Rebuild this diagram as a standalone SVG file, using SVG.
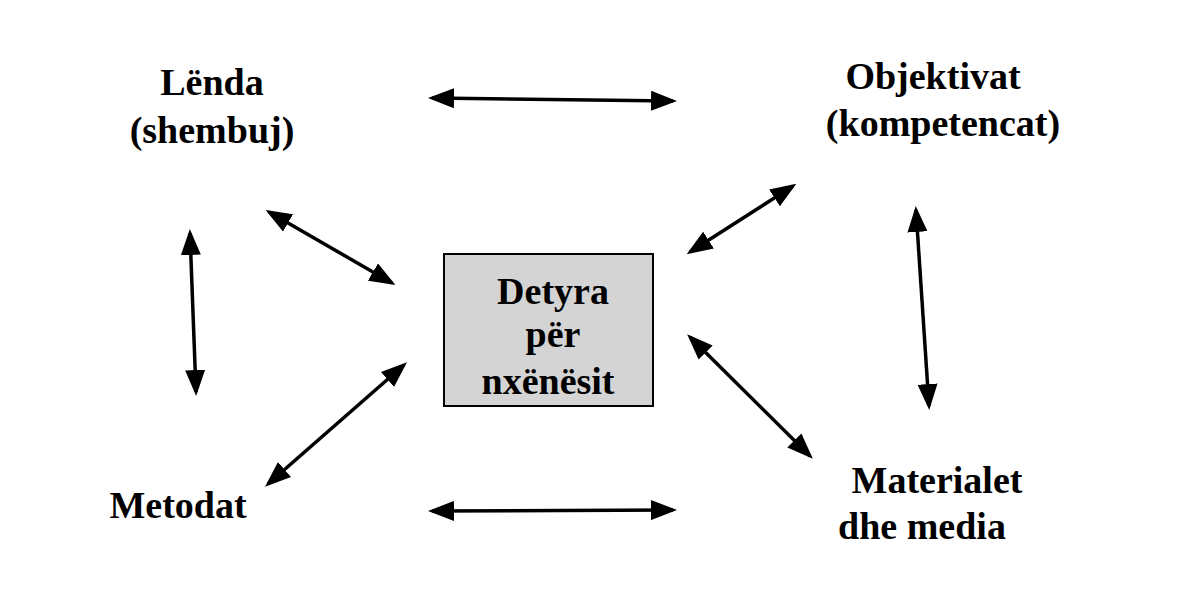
<svg xmlns="http://www.w3.org/2000/svg" width="1188" height="611" viewBox="0 0 1188 611">
<style>
.t{font-family:"Liberation Serif",serif;font-weight:bold;font-size:38px;fill:#000;text-anchor:middle}
.c line{stroke:#000;stroke-width:3.5;marker-start:url(#a);marker-end:url(#a)}
</style>
<defs>
<marker id="a" markerUnits="userSpaceOnUse" markerWidth="26" markerHeight="20" refX="22" refY="10" orient="auto-start-reverse">
<path d="M0,0 L26,10 L0,20 Z" fill="#000"/>
</marker>
</defs>
<rect width="1188" height="611" fill="#fff"/>
<g id="center"><rect x="444" y="254" width="209" height="152" fill="#d4d4d4" stroke="#000" stroke-width="2"/>
<text class="t" x="553" y="304">Detyra</text><text class="t" x="553" y="347">për</text><text class="t" x="548" y="394">nxënësit</text></g>
<g id="lenda"><text class="t" x="212" y="95">Lënda</text><text class="t" x="212" y="143">(shembuj)</text></g>
<g id="objektivat"><text class="t" x="933" y="89">Objektivat</text><text class="t" x="943" y="136">(kompetencat)</text></g>
<g id="metodat"><text class="t" x="178" y="518">Metodat</text></g>
<g id="materialet"><text class="t" x="937" y="493">Materialet</text><text class="t" x="922" y="539">dhe media</text></g>
<g class="c" id="connectors">
<line x1="432" y1="98" x2="673" y2="101"/>
<line x1="432" y1="511" x2="673" y2="510"/>
<line x1="190" y1="233" x2="196" y2="392"/>
<line x1="916" y1="210" x2="929" y2="406"/>
<line x1="269" y1="212" x2="392" y2="283"/>
<line x1="793" y1="186" x2="690" y2="252"/>
<line x1="268" y1="484" x2="404" y2="365"/>
<line x1="690" y1="337" x2="810" y2="456"/>
</g>
</svg>
